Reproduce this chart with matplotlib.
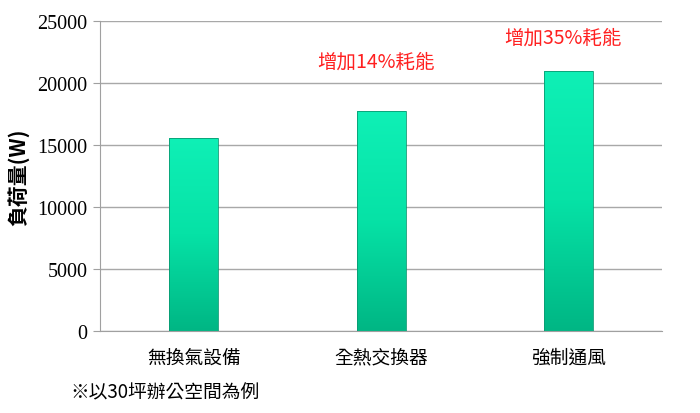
import numpy as np
import matplotlib
matplotlib.use("Agg")
import matplotlib.pyplot as plt
from matplotlib.colors import LinearSegmentedColormap

plt.rcParams['font.family'] = ['Noto Sans CJK TC', 'DejaVu Sans']

# données
categories = ["無換氣設備", "全熱交換器", "強制通風"]
loads = [15600, 17750, 21000]
notes = ["", "增加14%耗能", "增加35%耗能"]
note_y = [0, 21750, 23700]
y_ticks = [0, 5000, 10000, 15000, 20000, 25000]

fig = plt.figure(figsize=(7, 4.14), dpi=100)
ax = fig.add_axes([0.143, 0.198, 0.803, 0.749])

x = np.arange(len(categories))
bars = ax.bar(x, loads, width=0.26, color='none', edgecolor='#0a9a72', linewidth=0.6, zorder=3)

# dégradé vert sur chaque barre
cmap = LinearSegmentedColormap.from_list('vert', ['#00b684', '#06e2a6', '#0ff0b6'])
grad = np.linspace(0, 1, 256).reshape(-1, 1)
for b in bars:
    bx, by = b.get_x(), b.get_y()
    w, h = b.get_width(), b.get_height()
    im = ax.imshow(grad, extent=(bx, bx + w, by, by + h), origin='lower',
                   cmap=cmap, aspect='auto', zorder=2)
    im.set_clip_path(b)

ax.set_xlim(-0.5, len(categories) - 0.5)
ax.set_ylim(0, 25000)
ax.set_yticks(y_ticks)
ax.set_yticklabels([str(v) for v in y_ticks], fontsize=14.5, family='Liberation Serif')
ax.set_xticks(x)
ax.set_xticklabels(categories, fontsize=13.5)
ax.tick_params(axis='x', length=0, pad=11)
ax.tick_params(axis='y', length=5, color='#a0a0a0', pad=4)

ax.grid(axis='y', color='#a8a8a8', linewidth=1, zorder=0)
ax.set_axisbelow(True)
for s in ['top', 'right']:
    ax.spines[s].set_visible(False)
for s in ['left', 'bottom']:
    ax.spines[s].set_color('#a0a0a0')

ax.set_ylabel("負荷量(W)", fontsize=15, fontweight='bold', labelpad=6)

for i, (t, ty) in enumerate(zip(notes, note_y)):
    if t:
        ax.text(i - 0.03, ty, t, color='#ff2020', fontsize=14, ha='center', va='center')

fig.text(0.1, 0.05, "※以30坪辦公空間為例", fontsize=13.5, ha='left', va='center')

fig.savefig("out.png", dpi=100)
